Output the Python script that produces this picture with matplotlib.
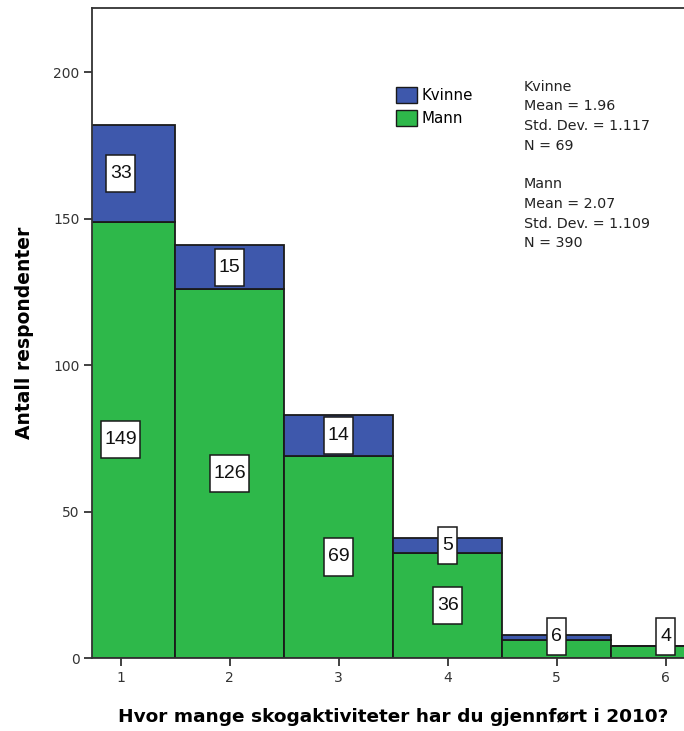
import matplotlib
matplotlib.use("Agg")
import numpy as np
import matplotlib.pyplot as plt
from matplotlib.patches import Rectangle, Patch

plt.rcParams.update({
    "font.family": "DejaVu Sans",
    "axes.linewidth": 1.3,
    "xtick.major.size": 6,
    "ytick.major.size": 6,
    "xtick.major.width": 1.3,
    "ytick.major.width": 1.3,
})

# ── data ─────────────────────────────────────────────
activities = [1, 2, 3, 4, 5, 6]
mann   = [149, 126, 69, 36, 6, 4]
kvinne = [33, 15, 14, 5, 2, 0]
stats_text = ("Kvinne\nMean = 1.96\nStd. Dev. = 1.117\nN = 69\n\n"
              "Mann\nMean = 2.07\nStd. Dev. = 1.109\nN = 390")

BLUE, GREEN = "#3E58AC", "#2EB84A"
EDGE = "#1a1a1a"

W, H = 684, 731
fig = plt.figure(figsize=(W / 100, H / 100), dpi=100)
ax = fig.add_axes([92 / W, 73 / H, (W - 92) / W, 650 / H])

ax.bar(activities, mann, width=1.0, color=GREEN, edgecolor=EDGE, lw=1.3)
ax.bar(activities, kvinne, bottom=mann, width=1.0, color=BLUE, edgecolor=EDGE, lw=1.3)

ax.set_xlim(0.737, 6.168)
ax.set_ylim(0, 222)
ax.set_xticks(activities)
ax.set_yticks([0, 50, 100, 150, 200])
ax.spines["right"].set_visible(False)
for s in ax.spines.values():
    s.set_color("#333333")
ax.tick_params(labelsize=10, colors="#333333", pad=3)

ax.set_ylabel("Antall respondenter", fontsize=13.5, fontweight="bold", labelpad=14)
ax.set_xlabel("Hvor mange skogaktiviteter har du gjennført i 2010?",
              fontsize=13.3, fontweight="bold", labelpad=17)
ax.xaxis.label.set_x((393 - 92) / (W - 92))

# value boxes (SPSS style), sized in pixels
px_x = 1 / 109.0
px_y = 1 / 2.925
box_h = 37 * px_y


def label_box(x, yc, val):
    s = str(val)
    bw = (8 + 10.5 * len(s)) * px_x
    ax.add_patch(Rectangle((x - bw / 2, yc - box_h / 2), bw, box_h,
                           facecolor="white", edgecolor=EDGE, lw=1.1, zorder=5))
    ax.text(x, yc, s, ha="center", va="center", fontsize=14,
            family="Liberation Sans", color="#111111", zorder=6)


for x, m, k in zip(activities, mann, kvinne):
    y_m = max(m / 2, box_h / 2 + 1)
    if m > 0:
        label_box(x, y_m, m)
    y_k = max(m + k / 2, box_h / 2 + 1)
    if k > 0 and y_k - y_m >= box_h:
        label_box(x, y_k, k)

# legend + stats
leg = ax.legend(handles=[Patch(facecolor=BLUE, edgecolor=EDGE, label="Kvinne"),
                         Patch(facecolor=GREEN, edgecolor=EDGE, label="Mann")],
                loc="upper left", bbox_to_anchor=((390 - 92) / (W - 92), (658 - 81) / 650),
                frameon=False, fontsize=10.8, handlelength=1.4, handleheight=1.3,
                handletextpad=0.3, labelspacing=0.45, borderaxespad=0)
fig.text(524 / W, 1 - 80 / H, stats_text, ha="left", va="top", fontsize=10.3,
         linespacing=1.5, color="#222222")

fig.savefig("out.png", dpi=100)
